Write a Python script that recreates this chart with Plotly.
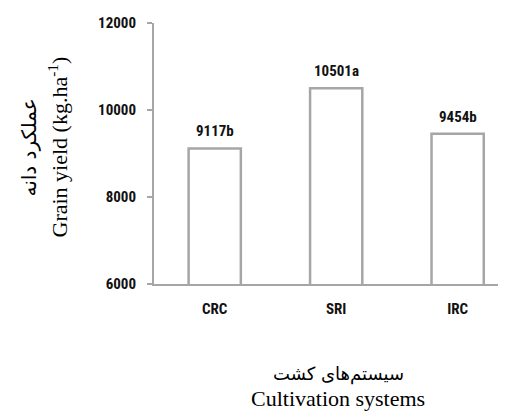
import plotly.graph_objects as go

categories = ["CRC", "SRI", "IRC"]
yields = [9117, 10501, 9454]
labels = ["9117b", "10501a", "9454b"]
y_ticks = [6000, 8000, 10000, 12000]

cond = "Liberation Sans Narrow, Roboto Condensed, Arial Narrow, Liberation Sans, sans-serif"
serif = "Liberation Serif, Times New Roman, serif"
persian = "DejaVu Sans, Noto Sans, sans-serif"
grey = "#a6a6a6"

# plot area in figure pixels (page adds an 8px body margin)
L, T, B, R = 146, 15, 129, 1
W, H = 498, 405
pw = W - L - R
ph = H - T - B

fig = go.Figure()
fig.add_trace(go.Bar(
    x=categories, y=yields, width=0.43,
    marker=dict(color="white", line=dict(color=grey, width=2.5)),
))

for c, v, t in zip(categories, yields, labels):
    fig.add_annotation(x=c, y=v, text="<b>%s</b>" % t, showarrow=False,
                       yanchor="bottom", yshift=6,
                       font=dict(family=cond, size=15, color="#111"))

# axis titles
fig.add_annotation(xref="paper", yref="paper", x=(20 - L) / pw, y=0.5 + 6 / ph,
                   text="عملکرد دانه", textangle=-90, showarrow=False,
                   xanchor="center", yanchor="middle",
                   font=dict(family=persian, size=20, color="black"))
fig.add_annotation(xref="paper", yref="paper", x=(49 - L) / pw, y=0.5 + 6 / ph,
                   text="Grain yield (kg.ha<sup>-1</sup>)", textangle=-90, showarrow=False,
                   xanchor="center", yanchor="middle",
                   font=dict(family=serif, size=22, color="black"))
fig.add_annotation(xref="paper", yref="paper", x=(330 - L) / pw, y=-(366 - (H - B)) / ph,
                   text="سیستم‌های کشت", showarrow=False,
                   xanchor="center", yanchor="middle",
                   font=dict(family=persian, size=18, color="black"))
fig.add_annotation(xref="paper", yref="paper", x=(330 - L) / pw, y=-(390 - (H - B)) / ph,
                   text="Cultivation systems", showarrow=False,
                   xanchor="center", yanchor="middle",
                   font=dict(family=serif, size=22, color="black"))

fig.update_layout(
    width=W, height=H,
    margin=dict(l=L, r=R, t=T, b=B, autoexpand=False),
    plot_bgcolor="white", paper_bgcolor="white",
    showlegend=False,
    xaxis=dict(
        range=[-0.5, 2.39], showline=True, linecolor=grey, linewidth=2,
        ticks="", showgrid=False, zeroline=False,
        tickfont=dict(family=cond, size=15, color="#111"),
        ticklabelstandoff=10,
        tickvals=categories, ticktext=["<b>%s</b>" % c for c in categories],
    ),
    yaxis=dict(
        range=[6000, 12000], tickvals=y_ticks,
        ticktext=["<b>%d</b>" % v for v in y_ticks],
        showline=True, linecolor=grey, linewidth=2,
        ticks="outside", ticklen=5, tickcolor=grey, tickwidth=2,
        showgrid=False, zeroline=False,
        tickfont=dict(family=cond, size=15, color="#111"),
        ticklabelstandoff=8,
    ),
)

fig.write_html("out.html")
